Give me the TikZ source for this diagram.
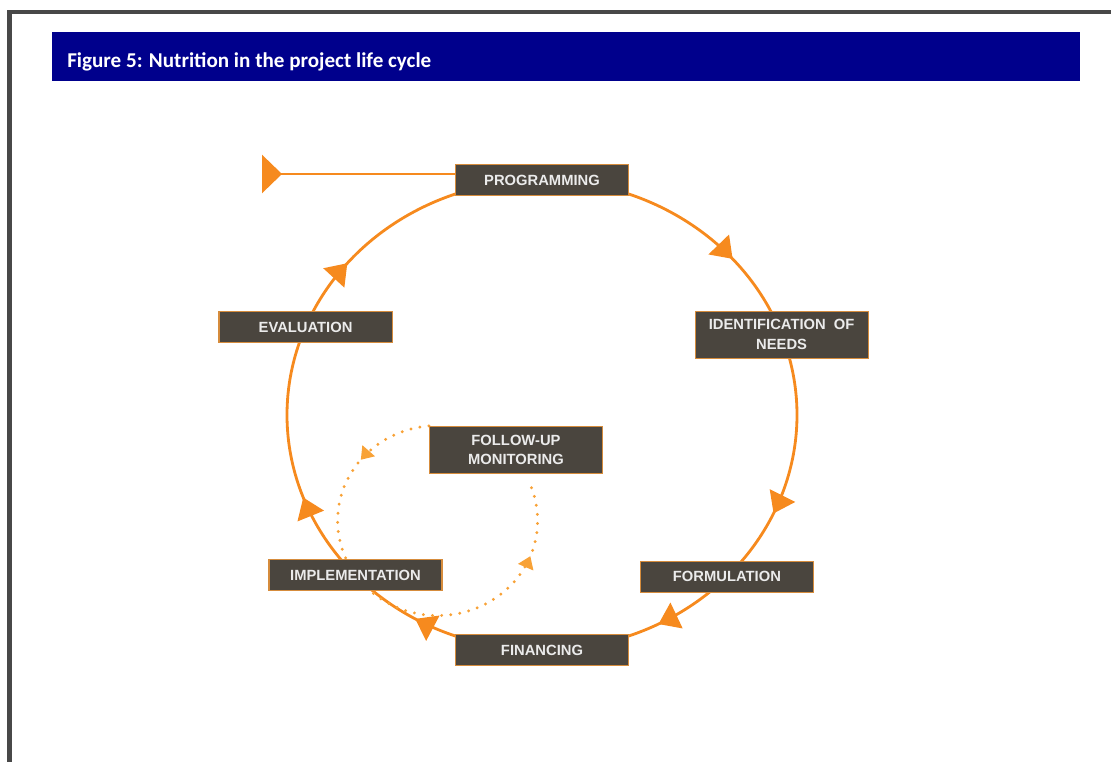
\documentclass[tikz,border=0pt]{standalone}
\usepackage{fontspec}
\setmainfont{Liberation Sans}
\newfontfamily\captionfont{Carlito}
\usetikzlibrary{
	calc,
	arrows.meta,
	decorations.markings,
	backgrounds}

\definecolor{barblue}{RGB}{0,0,140}
\definecolor{cycleorange}{RGB}{246,138,30}
\definecolor{dotorange}{RGB}{248,162,55}
\definecolor{boxgray}{RGB}{74,69,62}
\definecolor{boxedge}{RGB}{214,140,60}
\definecolor{framegray}{RGB}{72,72,72}

\begin{document}
\begin{tikzpicture}[x=0.025cm,y=0.025cm,
	stage/.style={draw=boxedge,line width=0.8pt,fill=boxgray,text=white!92!black,
		font=\fontsize{10.5}{14}\selectfont\bfseries,
		minimum width=4.325cm,minimum height=0.775cm,inner sep=0pt,align=center},
	tallstage/.style={stage,minimum height=1.175cm},
	cycleline/.style={draw=cycleorange,line width=2pt},
	midarrow/.style={postaction={decorate,decoration={markings,
		mark=at position #1 with {\arrow{Triangle[length=0.5cm,width=0.7cm]}}}}},
	loopline/.style={draw=dotorange,line width=2.3pt,line cap=round,dash pattern=on 0pt off 6.5pt}]

	\useasboundingbox (0,0) rectangle (1111,-762);

		% Frame and caption
		\draw[framegray,line width=0.1cm] (9.5,-762) -- (9.5,-12.5) -- (1111,-12.5);
		\fill[barblue] (52,-32) rectangle (1080,-81);
		\node[anchor=base west,inner sep=0pt,text=white,font=\fontsize{15}{17}\captionfont\bfseries] (title) at (67,-68) {Figure 5: Nutrition in the project life cycle};

		% Cycle
		\coordinate (c) at (542,-415);
		\node[stage]     (prog)  at ($(c)+(90:255 and 235)$)   {PROGRAMMING};
		\node[tallstage] (ident) at ($(c)+(20:255 and 235)$)   {IDENTIFICATION\ \ OF\\NEEDS};
		\node[stage]     (form)  at ($(c)+(-43.5:255 and 235)$) {FORMULATION};
		\node[stage]     (fin)   at ($(c)+(-90:255 and 235)$)  {FINANCING};
		\node[stage]     (impl)  at ($(c)+(-137:255 and 235)$) {IMPLEMENTATION};
		\node[stage]     (eval)  at ($(c)+(158:255 and 235)$)  {EVALUATION};
		\node[tallstage] (fol)   at (516,-450)                 {FOLLOW-UP\\MONITORING};
		\coordinate (tail) at (262,-174);

		\begin{scope}[on background layer]
			\draw[cycleline,midarrow=0.70] (prog.center)  arc[start angle=90,end angle=20,x radius=255,y radius=235];
			\draw[cycleline,midarrow=0.70] (ident.center) arc[start angle=20,end angle=-43.5,x radius=255,y radius=235];
			\draw[cycleline,midarrow=0.41] (form.center)  arc[start angle=-43.5,end angle=-90,x radius=255,y radius=235];
			\draw[cycleline,midarrow=0.64] (fin.center)   arc[start angle=-90,end angle=-137,x radius=255,y radius=235];
			\draw[cycleline,midarrow=0.35] (impl.center)  arc[start angle=-137,end angle=-202,x radius=255,y radius=235];
			\draw[cycleline,midarrow=0.26] (eval.center)  arc[start angle=158,end angle=90,x radius=255,y radius=235];

			\draw[cycleline,{Triangle[reversed,length=0.5cm,width=0.95cm]}-] (tail) -- (tail -| prog.west);

			% Follow-up loop
			\draw[loopline,postaction={decorate,decoration={markings,
				mark=at position 0.16 with {\arrow[dotorange]{Triangle[length=0.3cm,width=0.4cm]}},
				mark=at position 0.85 with {\arrow[dotorange]{Triangle[length=0.3cm,width=0.4cm]}}}}]
				(fol.north west) arc[start angle=95,end angle=382,x radius=100,y radius=95];
		\end{scope}

	\end{tikzpicture}
\end{document}
